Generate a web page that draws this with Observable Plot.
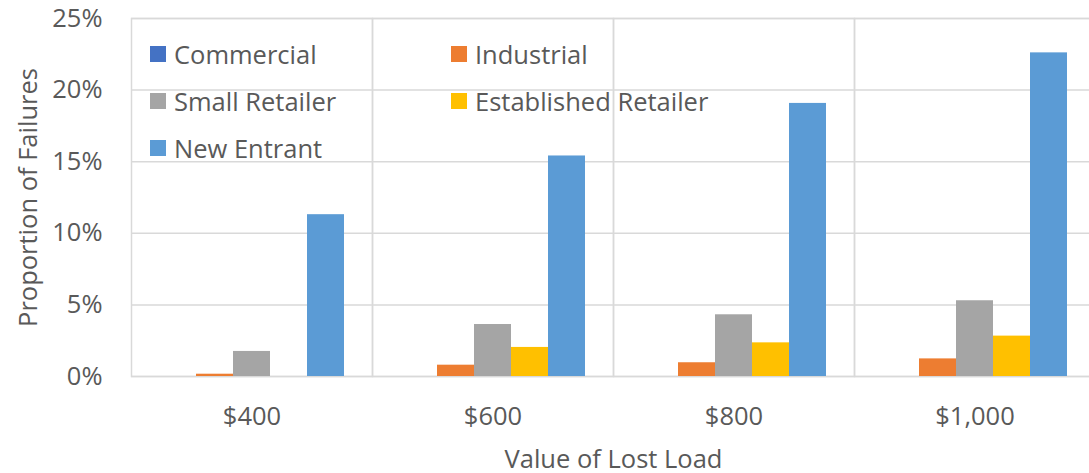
<!DOCTYPE html>
<html>
<head>
<meta charset="utf-8">
<script src="https://cdn.jsdelivr.net/npm/d3@7"></script>
<script src="https://cdn.jsdelivr.net/npm/@observablehq/plot@0.6"></script>
<style>
  html, body { margin: 0; padding: 0; background: #fff; overflow: hidden; }
  #wrap { position: relative; width: 1089px; height: 473px; overflow: hidden; }
  #wrap svg { max-width: none !important; }
  #legend { position: absolute; left: 0; top: 0; font-family: "Open Sans", sans-serif; font-size: 25.5px; color: #595959; }
  .item { position: absolute; display: flex; align-items: center; white-space: nowrap; }
  .sw { width: 16px; height: 16px; margin-right: 8px; }
</style>
</head>
<body>
<div id="wrap"></div>
<script>
const categories = ["$400", "$600", "$800", "$1,000"];
const series = ["Commercial", "Industrial", "Small Retailer", "Established Retailer", "New Entrant"];
const colors = ["#4472C4", "#ED7D31", "#A5A5A5", "#FFC000", "#5B9BD5"];
const commercial = [0, 0, 0, 0];
const industrial = [0.0016, 0.0079, 0.0096, 0.0123];
const smallRetailer = [0.0175, 0.0363, 0.0431, 0.0529];
const establishedRetailer = [0, 0.0203, 0.0235, 0.0282];
const newEntrant = [0.113, 0.154, 0.1907, 0.226];
const yTicks = [0, 0.05, 0.10, 0.15, 0.20, 0.25];

const valuesBySeries = [commercial, industrial, smallRetailer, establishedRetailer, newEntrant];
const data = [];
categories.forEach((c, i) => {
  series.forEach((s, j) => data.push({cat: c, series: s, value: valuesBySeries[j][i]}));
});

const chart = Plot.plot({
  width: 1097,
  height: 473,
  marginLeft: 129,
  marginRight: 1,
  marginTop: 18,
  marginBottom: 97,
  style: {fontFamily: "'Open Sans', sans-serif", fontSize: "25.5px", color: "#595959", background: "white", maxWidth: "none"},
  fx: {domain: categories, padding: 0},
  x: {domain: series, paddingInner: 0, paddingOuter: 0.74, axis: null},
  y: {domain: [0, 0.25]},
  color: {domain: series, range: colors},
  marks: [
    Plot.gridY(yTicks, {stroke: "#d9d9d9", strokeOpacity: 1, strokeWidth: 1.5}),
    Plot.frame({stroke: "#d9d9d9", strokeWidth: 1.5}),
    Plot.barY(data, {fx: "cat", x: "series", y: "value", fill: "series", inset: 0}),
    Plot.axisY(yTicks, {tickSize: 0, tickPadding: 29, tickFormat: d => Math.round(d * 100) + "%",
      label: "Proportion of Failures", labelAnchor: "center", labelArrow: "none", labelOffset: 113}),
    Plot.axisFx({anchor: "bottom", tickSize: 0, tickPadding: 30, label: "Value of Lost Load",
      labelAnchor: "center", labelArrow: "none", labelOffset: 91})
  ]
});
const wrap = document.getElementById("wrap");
wrap.appendChild(chart);

const legend = document.createElement("div");
legend.id = "legend";
const lx = [150, 451];
const ly = [54, 101, 148];
series.forEach((s, i) => {
  const it = document.createElement("div");
  it.className = "item";
  it.style.left = lx[i % 2] + "px";
  it.style.top = (ly[Math.floor(i / 2)] - 17) + "px";
  it.style.height = "34px";
  const sw = document.createElement("div");
  sw.className = "sw";
  sw.style.background = colors[i];
  const t = document.createElement("span");
  t.textContent = s;
  it.appendChild(sw);
  it.appendChild(t);
  legend.appendChild(it);
});
wrap.appendChild(legend);
</script>
</body>
</html>
